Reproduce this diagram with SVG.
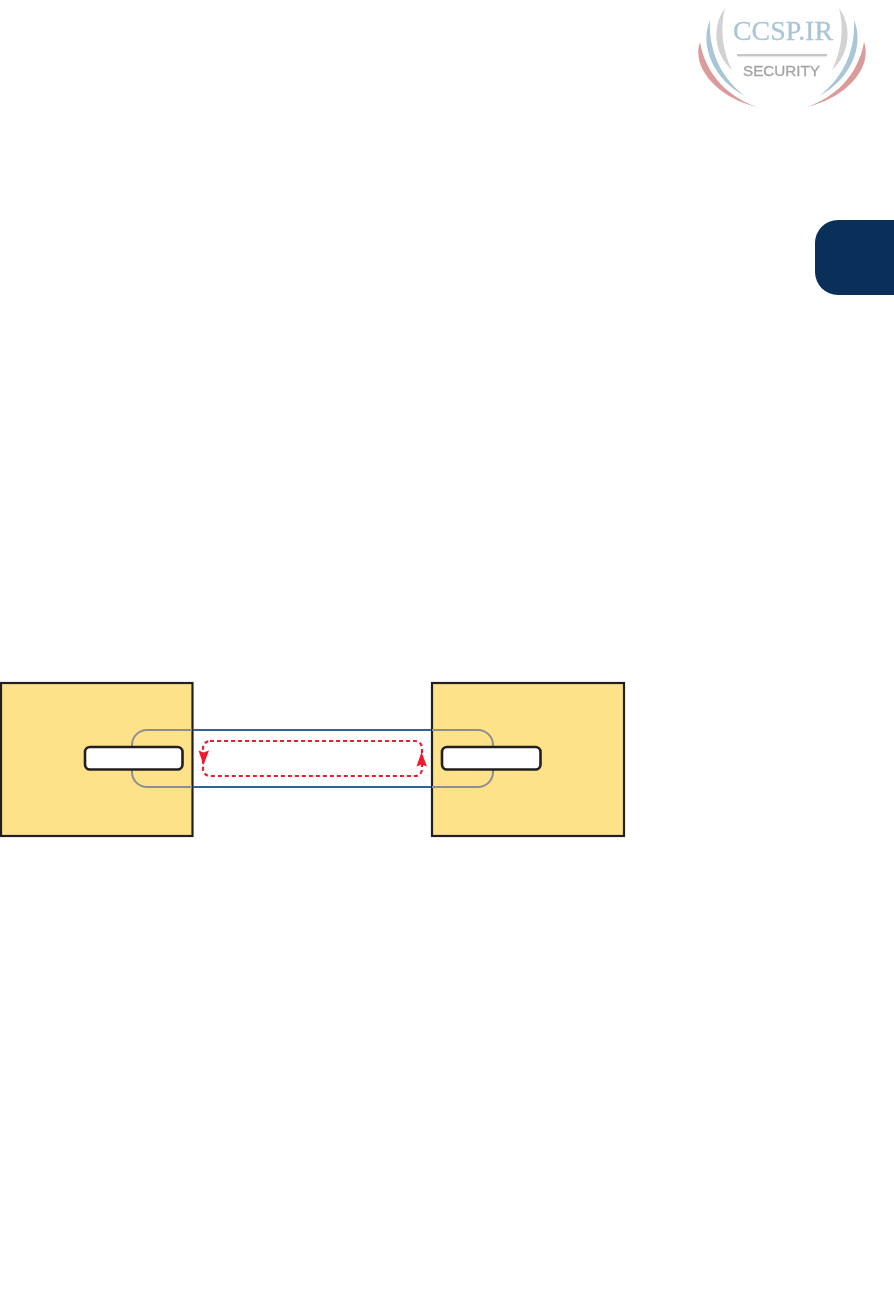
<svg xmlns="http://www.w3.org/2000/svg" width="894" height="1314" viewBox="0 0 894 1314">
<style>
.box{fill:#fde28a;stroke:#231f20;stroke-width:2.2}
.port{fill:#fff;stroke:#231f20;stroke-width:2.6}
.grey{fill:none;stroke:#8e8e8e;stroke-width:2}
.blue{fill:none;stroke:#2f6496;stroke-width:2}
.dash{fill:none;stroke:#ed1c2e;stroke-width:2.200;stroke-dasharray:4 3}
.head{fill:#ed1c2e}
</style>
<defs><filter id="soft" x="-5%" y="-5%" width="110%" height="110%"><feGaussianBlur stdDeviation="0.45"/></filter></defs>
<rect width="894" height="1314" fill="#fff"/>
<g id="logo" filter="url(#soft)">
<path d="M725 8C713 24 712 52 732 70C722 50 720 28 725 8Z" fill="#d2d2d2"/>
<path d="M839 8C851 24 852 52 832 70C842 50 844 28 839 8Z" fill="#d2d2d2"/>
<path d="M710 20C699 46 714 80 745 96C726 82 708 56 710 20Z" fill="#a9c6d6"/>
<path d="M854 20C865 46 850 80 819 96C838 82 856 56 854 20Z" fill="#a9c6d6"/>
<path d="M700 42C691 68 718 98 757 107C729 97 706 76 700 42Z" fill="#dc9b9b"/>
<path d="M864 42C873 68 846 98 807 107C835 97 858 76 864 42Z" fill="#dc9b9b"/>
<text x="733" y="40" font-family="'Liberation Serif',serif" font-size="27" fill="#a9c6d6" stroke="#a9c6d6" stroke-width="0.3" textLength="100" lengthAdjust="spacingAndGlyphs">CCSP.IR</text>
<rect x="737" y="54" width="90" height="2.400" fill="#c6c6c6"/>
<text x="743" y="76" font-family="'Liberation Sans',sans-serif" font-size="14" fill="#a3a3a3" stroke="#a3a3a3" stroke-width="0.3" textLength="77" lengthAdjust="spacingAndGlyphs">SECURITY</text>
</g>
<path id="tab" d="M894 220H838A23 23 0 0 0 815 243V272A23 23 0 0 0 838 295H894Z" fill="#0a2f58"/>
<g id="node-left"><rect class="box" x="1" y="683" width="191.500" height="153"/></g>
<g id="node-right"><rect class="box" x="432" y="683" width="192" height="153"/></g>
<g id="connectors">
<path class="blue" d="M193 730H431M193 787H431"/>
<path class="grey" d="M192 730H147A15 15 0 0 0 132 745V772A15 15 0 0 0 147 787H192"/>
<path class="grey" d="M432 730H478A15 15 0 0 1 493 745V772A15 15 0 0 1 478 787H432"/>
<rect class="dash" x="203" y="741" width="219" height="35" rx="7"/>
<path class="head" d="M198.500 750.500L203.500 752.500L209 750.500L203.500 765Z"/>
<path class="head" d="M416.500 766.500L421.500 764.500L427 766.500L421.500 752Z"/>
</g>
<g id="port-left"><rect class="port" x="85" y="747" width="97.500" height="22.500" rx="5"/></g>
<g id="port-right"><rect class="port" x="442" y="747" width="98.500" height="22.500" rx="5"/></g>
</svg>
